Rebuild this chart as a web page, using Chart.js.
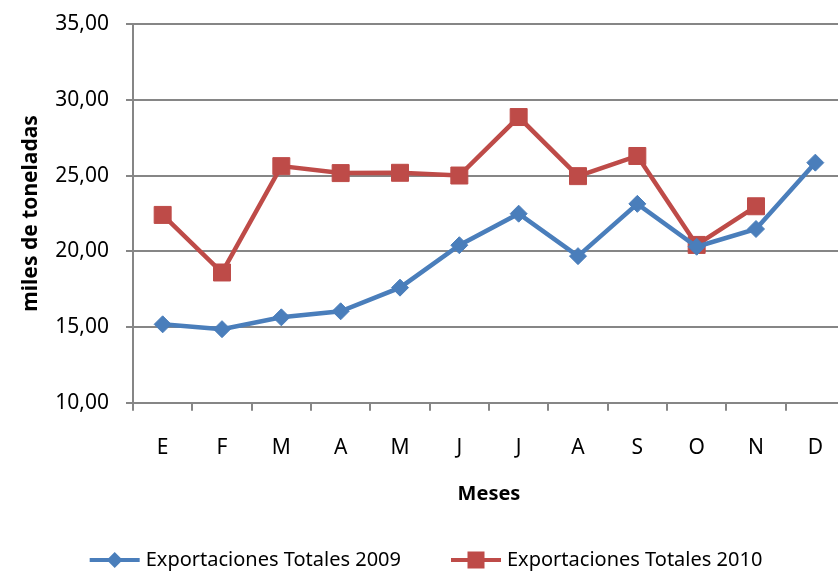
<!DOCTYPE html>
<html>
<head>
<meta charset="utf-8">
<script src="https://cdn.jsdelivr.net/npm/chart.js@4/dist/chart.umd.min.js"></script>
<style>
html,body{margin:0;padding:0;background:#fff;overflow:hidden;}
#wrap{width:858px;height:571px;}
</style>
</head>
<body>
<div id="wrap"><canvas id="c" width="858" height="571"></canvas></div>
<script>
const months = ['E','F','M','A','M','J','J','A','S','O','N','D'];
const export2009 = [15.18, 14.86, 15.64, 16.04, 17.6, 20.4, 22.48, 19.68, 23.13, 20.3, 21.47, 25.85];
const export2010 = [22.4, 18.6, 25.62, 25.16, 25.18, 25.0, 28.86, 24.96, 26.29, 20.42, 22.97, null];
const seriesNames = ['Exportaciones Totales 2009', 'Exportaciones Totales 2010'];
const yTicks = [10, 15, 20, 25, 30, 35];

const BLUE = '#4A7EBB';
const RED = '#BE4B48';
const FONT = "'Noto Sans', sans-serif";

function drawMarker(g, style, color, x, y) {
  g.fillStyle = color;
  if (style === 'diamond') {
    g.beginPath(); g.moveTo(x, y - 8); g.lineTo(x + 8, y); g.lineTo(x, y + 8); g.lineTo(x - 8, y); g.closePath(); g.fill();
  } else {
    g.fillRect(x - 8.5, y - 8.5, 17, 17);
  }
}

const lineLegend = {
  id: 'lineLegend',
  afterDraw(chart) {
    const g = chart.ctx;
    const styles = ['diamond', 'square'];
    const colors = [BLUE, RED];
    const sampleW = 50, textGap = 6, itemGap = 50;
    g.save();
    g.font = "20px 'Noto Sans', sans-serif";
    g.textBaseline = 'middle';
    g.textAlign = 'left';
    const widths = seriesNames.map(t => g.measureText(t).width);
    const total = widths.reduce((a, w) => a + sampleW + textGap + w, 0) + itemGap * (seriesNames.length - 1);
    let x = (chart.width - 6) / 2 - total / 2;
    const y = chart.height - 11;
    seriesNames.forEach((t, i) => {
      g.strokeStyle = colors[i]; g.lineWidth = 4;
      g.beginPath(); g.moveTo(x, y); g.lineTo(x + sampleW, y); g.stroke();
      drawMarker(g, styles[i], colors[i], x + sampleW / 2, y);
      g.fillStyle = '#000';
      g.fillText(t, x + sampleW + textGap, y);
      x += sampleW + textGap + widths[i] + itemGap;
    });
    g.restore();
  }
};

new Chart(document.getElementById('c'), {
  type: 'line',
  data: {
    labels: months,
    datasets: [
      {
        label: seriesNames[0], data: export2009,
        borderColor: BLUE, backgroundColor: BLUE, borderWidth: 4.5,
        pointStyle: 'rectRot', pointRadius: 8.5, pointHoverRadius: 8.5,
        pointBackgroundColor: BLUE, pointBorderColor: BLUE, pointBorderWidth: 1,
        tension: 0, spanGaps: false
      },
      {
        label: seriesNames[1], data: export2010,
        borderColor: RED, backgroundColor: RED, borderWidth: 4.5,
        pointStyle: 'rect', pointRadius: 12, pointHoverRadius: 12,
        pointBackgroundColor: RED, pointBorderColor: RED, pointBorderWidth: 1,
        tension: 0, spanGaps: false
      }
    ]
  },
  plugins: [lineLegend],
  options: {
    responsive: false,
    animation: false,
    events: [],
    layout: { padding: { top: 24, right: 5, left: 0, bottom: 65 } },
    plugins: {
      tooltip: { enabled: false },
      legend: { display: false }
    },
    scales: {
      x: {
        type: 'category',
        offset: true,
        afterFit: (s) => { s.paddingLeft = 0; s.paddingRight = 0; },
        grid: { display: true, drawOnChartArea: false, drawTicks: true, tickLength: 8, offset: true, color: '#868686', lineWidth: 2 },
        border: { display: true, color: '#868686', width: 2 },
        ticks: { color: '#000', font: { family: FONT, size: 21 }, padding: 25, maxRotation: 0, autoSkip: false },
        title: { display: true, text: 'Meses', color: '#000', font: { family: FONT, size: 20, weight: 'bold' }, padding: { top: -4, bottom: 0 } }
      },
      y: {
        min: 10, max: 35,
        afterBuildTicks: (s) => { s.ticks = yTicks.map(v => ({ value: v })); },
        afterFit: (s) => { s.width = 133; s.paddingTop = 0; s.paddingBottom = 0; },
        grid: { color: '#868686', lineWidth: 2, tickLength: 7 },
        border: { display: true, color: '#868686', width: 2 },
        ticks: {
          color: '#000', font: { family: FONT, size: 21 }, padding: 17,
          callback: (v) => v.toFixed(2).replace('.', ',')
        },
        title: { display: true, text: 'miles de toneladas', color: '#000', font: { family: FONT, size: 21, weight: 'bold' }, padding: { top: 18, bottom: 0 } }
      }
    }
  }
});
</script>
</body>
</html>
